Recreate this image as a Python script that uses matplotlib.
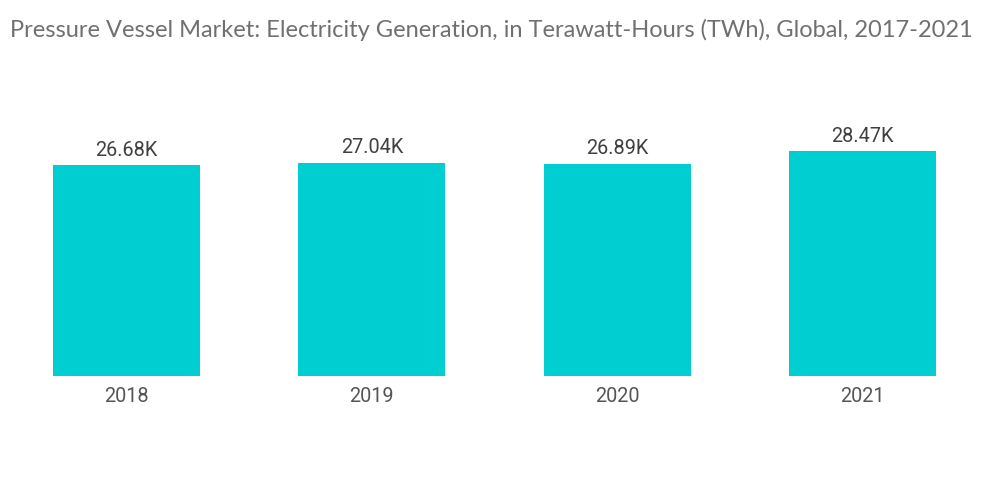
import matplotlib
matplotlib.use("Agg")
import matplotlib.pyplot as plt

years = ["2018", "2019", "2020", "2021"]
values = [26.68, 27.04, 26.89, 28.47]
labels = ["26.68K", "27.04K", "26.89K", "28.47K"]

fig = plt.figure(figsize=(10, 5.04), dpi=100)
ax = fig.add_axes([0.004, 0.254, 0.981, 0.548])
x = range(len(years))
bars = ax.bar(x, values, width=0.6, color="#00CED1")
ax.set_xlim(-0.5, 3.5)
ax.set_ylim(0, 35)
for b, lab in zip(bars, labels):
    ax.annotate(lab, (b.get_x() + b.get_width() / 2, b.get_height()),
                xytext=(0, 4), textcoords="offset points", ha="center", va="bottom",
                fontsize=14.3, color="#404040", family="Roboto")
ax.set_xticks(list(x))
ax.set_xticklabels(years, fontsize=14.3, color="#555555", family="Roboto")
ax.tick_params(axis="x", length=0, pad=8)
ax.set_yticks([])
for s in ax.spines.values():
    s.set_visible(False)

fig.text(0.01, 0.94, "Pressure Vessel Market: Electricity Generation, in Terawatt-Hours (TWh), Global, 2017-2021",
         fontsize=17, color="#707070", family="Lato", ha="left", va="center")
fig.savefig("out.png", dpi=100)
